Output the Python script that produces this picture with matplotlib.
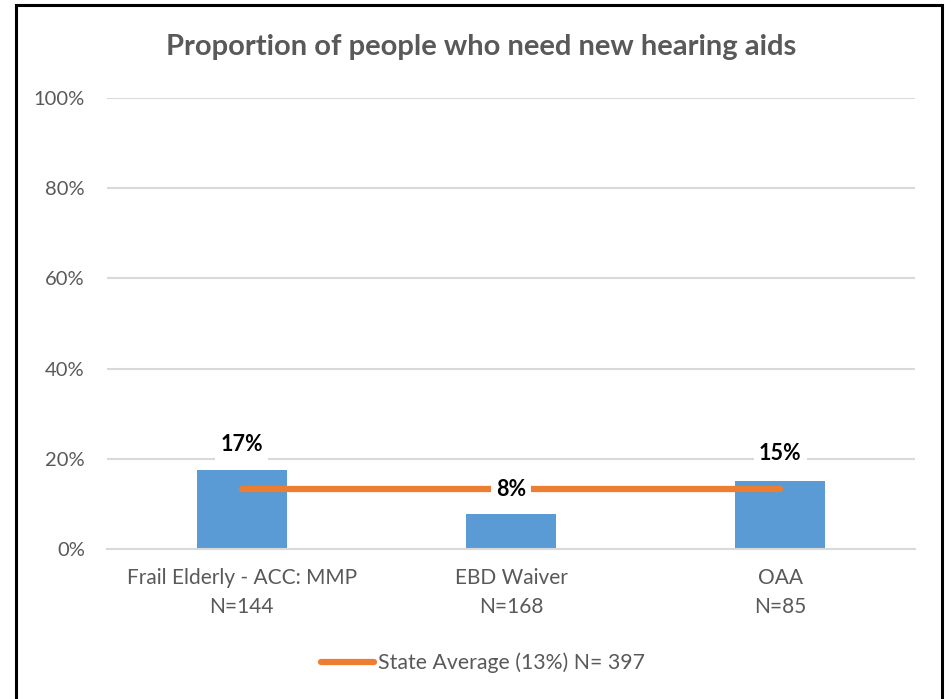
import matplotlib
matplotlib.use('Agg')
import matplotlib.pyplot as plt
from matplotlib.patches import Rectangle
from matplotlib.ticker import FuncFormatter

# Chart data
categories = ['Frail Elderly - ACC: MMP\nN=144', 'EBD Waiver\nN=168', 'OAA\nN=85']
values = [0.175, 0.078, 0.151]
value_labels = ['17%', '8%', '15%']
state_avg = 0.133
state_label = 'State Average (13%) N= 397'
title = 'Proportion of people who need new hearing aids'

BAR_COLOR = '#5b9bd5'
LINE_COLOR = '#ed7d31'
GRID_COLOR = '#d9d9d9'
TEXT_COLOR = '#595959'

plt.rcParams['font.family'] = ['Lato', 'DejaVu Sans']

fig = plt.figure(figsize=(9.51, 6.99), dpi=100)
ax = fig.add_axes([107 / 951, 1 - 549 / 699, 808 / 951, 451 / 699])

x = list(range(len(categories)))
ax.bar(x, values, width=0.335, color=BAR_COLOR, zorder=2)

# state average line across the categories
ax.plot([x[0], x[-1]], [state_avg] * 2, color=LINE_COLOR, linewidth=4.5,
        solid_capstyle='round', zorder=3, label=state_label)

# value labels with white boxes
label_y = [values[0] + 0.057, state_avg, values[2] + 0.06]
for xi, yi, txt in zip(x, label_y, value_labels):
    ax.text(xi, yi, txt, ha='center', va='center', fontsize=15.5, fontweight='bold',
            color='black', zorder=4,
            bbox=dict(boxstyle='square,pad=0.25', fc='white', ec='none'))

ax.set_xlim(-0.5, 2.5)
ax.set_ylim(0, 1.0)
ax.set_yticks([0, 0.2, 0.4, 0.6, 0.8, 1.0])
ax.yaxis.set_major_formatter(FuncFormatter(lambda v, _: f'{v:.0%}'))
ax.set_xticks(x)
ax.set_xticklabels(categories, linespacing=1.55)
ax.tick_params(axis='both', length=0, labelcolor=TEXT_COLOR)
ax.tick_params(axis='y', pad=16, labelsize=14.5)
ax.tick_params(axis='x', pad=14, labelsize=15)
ax.grid(axis='y', color=GRID_COLOR, linewidth=1.5, zorder=0)
ax.set_axisbelow(True)
for side in ['top', 'right', 'left']:
    ax.spines[side].set_visible(False)
ax.spines['bottom'].set_color(GRID_COLOR)
ax.spines['bottom'].set_linewidth(1.5)

fig.text(481 / 951, 1 - 47 / 699, title, ha='center', va='center',
         fontsize=21, fontweight='bold', color=TEXT_COLOR)

fig.legend(loc='center', bbox_to_anchor=(483 / 951, 1 - 663 / 699), frameon=False,
           fontsize=15.3, labelcolor=TEXT_COLOR, handlelength=2.5, handletextpad=0.15)

# outer border
fig.patches.append(Rectangle((16 / 951, -0.05), 926 / 951, 1.05 - 5 / 699,
                             transform=fig.transFigure, fill=False,
                             edgecolor='black', linewidth=2.2))

fig.savefig('out.png', dpi=100, facecolor='white')
